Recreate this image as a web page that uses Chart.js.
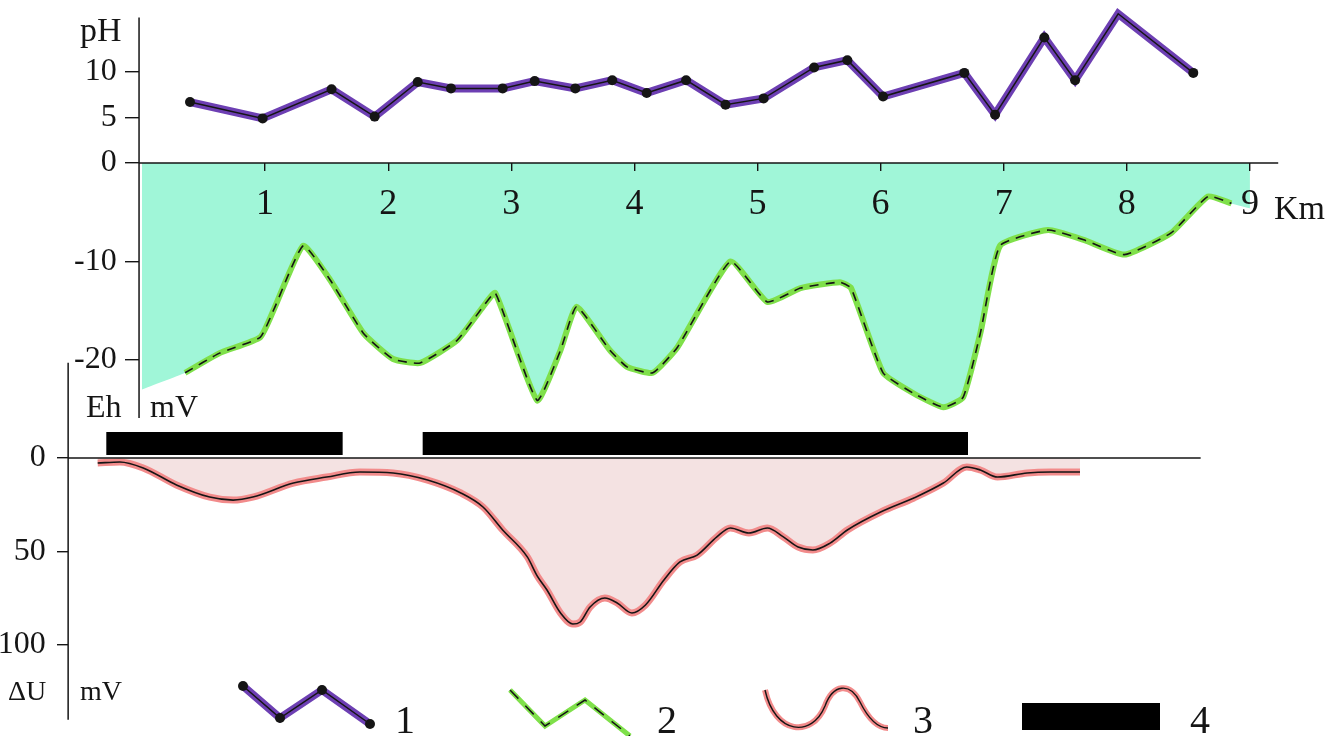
<!DOCTYPE html>
<html>
<head>
<meta charset="utf-8">
<script src="https://cdn.jsdelivr.net/npm/chart.js@4.4.1/dist/chart.umd.min.js"></script>
<style>
  html, body { margin: 0; padding: 0; background: #fff; }
  #wrap { width: 1337px; height: 736px; }
</style>
</head>
<body>
<div id="wrap"><canvas id="profileChart" width="1337" height="736"></canvas></div>
<script>
// pH along the profile
const phKm  = [0.39, 0.98, 1.54, 1.89, 2.24, 2.51, 2.93, 3.19, 3.52, 3.82, 4.10, 4.42, 4.74, 5.05, 5.46, 5.73, 6.02, 6.68, 6.93, 7.33, 7.58, 7.93, 8.54];
const phVal = [6.7, 4.9, 8.1, 5.1, 8.9, 8.2, 8.2, 9.0, 8.2, 9.1, 7.7, 9.1, 6.4, 7.1, 10.5, 11.3, 7.3, 9.9, 5.3, 13.8, 9.1, 16.4, 9.9];

// Eh, mV
const ehKm  = [0.35, 0.63, 0.96, 1.07, 1.31, 1.53, 1.80, 2.04, 2.26, 2.56, 2.77, 2.87, 3.21, 3.40, 3.53, 3.80, 3.94, 4.15, 4.35, 4.78, 5.08, 5.35, 5.67, 5.76, 6.02, 6.27, 6.51, 6.67, 6.81, 6.97, 7.36, 7.65, 7.98, 8.36, 8.66, 8.85];
const ehVal = [-21.3, -19.3, -17.7, -14.9, -8.4, -11.9, -17.3, -19.9, -20.3, -18.0, -14.6, -13.2, -24.1, -19.0, -14.6, -19.0, -20.7, -21.3, -18.7, -10.0, -14.1, -12.7, -12.1, -12.7, -21.3, -23.4, -24.8, -23.8, -17.3, -8.4, -6.8, -7.8, -9.3, -7.1, -3.4, -4.1];
// shaded Eh area runs on to the profile ends
const ehEdgeKm  = [0, 9];
const ehEdgeVal = [-23.0, -4.6];

// ΔU, mV
const duKm  = [-0.36, -0.18, 0.01, 0.28, 0.55, 0.74, 0.90, 1.23, 1.50, 1.77, 2.04, 2.32, 2.59, 2.77, 2.93, 3.13, 3.21, 3.29, 3.40, 3.50, 3.56, 3.64, 3.76, 3.86, 3.98, 4.09, 4.24, 4.37, 4.51, 4.67, 4.78, 4.93, 5.08, 5.21, 5.33, 5.45, 5.59, 5.73, 6.00, 6.27, 6.51, 6.70, 6.81, 6.95, 7.19, 7.38, 7.62];
const duVal = [2.7, 2.1, 5.3, 14.4, 20.9, 22.5, 20.9, 13.4, 10.2, 7.5, 8.0, 11.8, 18.7, 26.2, 38.5, 52.9, 63.0, 70.6, 82.9, 88.8, 87.7, 79.7, 74.9, 77.5, 82.9, 78.6, 65.2, 55.6, 51.9, 42.2, 37.4, 40.1, 37.4, 42.2, 47.6, 49.2, 45.5, 38.5, 28.9, 21.4, 13.4, 4.8, 6.4, 10.2, 8.0, 7.5, 7.5];

// zones (legend 4), km
const zoneStart = [-0.29, 2.28];
const zoneEnd   = [1.63, 6.71];

// tick labels
const kmTicks = [1, 2, 3, 4, 5, 6, 7, 8, 9];
const phTicks = [0, 5, 10];
const ehTicks = [-10, -20];
const duTicks = [0, 50, 100];
const legendLabels = ['1', '2', '3', '4'];

// colours
const PURPLE = '#6d3fb3';
const GREEN = '#7fe04a';
const MINT = '#a0f6d8';
const PINK = '#f28b8b';
const PINK_FILL = '#f4e2e2';
const INK = '#151515';
const SERIF = "'Liberation Serif', 'Times New Roman', serif";

// layout: canvas 1337x736, padding top/bottom
const W = 1337, H = 736, PAD = 40;
const KM0_PX = 142, KM_PX = 123.1;          // km 0 pixel and px per km
const xMin = (0 - KM0_PX) / KM_PX;
const xMax = (W - KM0_PX) / KM_PX;
const yRange = (zeroPx, pxPerUnit) => ({
    max: (zeroPx - PAD) / pxPerUnit,
    min: -(H - PAD - zeroPx) / pxPerUnit
});
const phR = yRange(163, 9.1);
const ehR = yRange(163, 9.85);
const duR = { min: -(458 - PAD) / 1.87, max: (H - PAD - 458) / 1.87 };   // reversed
const AXIS_KM = -0.024;      // pH / Eh axis
const DU_AXIS_KM = -0.6;     // ΔU axis
const ZONE_LEVEL = -7.8;     // on ΔU scale, just above the zero line

const pts = (xs, ys) => xs.map((x, i) => ({ x: x, y: ys[i] }));

const zoneData = [];
zoneStart.forEach((s, i) => {
    zoneData.push({ x: s, y: ZONE_LEVEL }, { x: zoneEnd[i], y: ZONE_LEVEL }, { x: zoneEnd[i] + 0.01, y: null });
});

const tickFont = { family: SERIF, size: 32 };
const setTicks = (list) => (scale) => { scale.ticks = list.map(v => ({ value: v })); };
const yAxis = (range, list, posKm, tickLen, extra) => Object.assign({
    type: 'linear',
    axis: 'y',
    position: { x: posKm },
    min: range.min,
    max: range.max,
    afterBuildTicks: setTicks(list),
    ticks: { font: tickFont, color: INK, padding: 6, z: 1, callback: v => v + '\u2002\u2009' },
    grid: { drawOnChartArea: false, drawTicks: true, tickLength: tickLen, color: INK, lineWidth: 1.4, z: 1 },
    border: { display: false }
}, extra || {});

function stroke(ctx, path, color, width, dash) {
    ctx.beginPath();
    path.forEach((p, i) => i ? ctx.lineTo(p[0], p[1]) : ctx.moveTo(p[0], p[1]));
    ctx.strokeStyle = color;
    ctx.lineWidth = width;
    ctx.setLineDash(dash || []);
    ctx.stroke();
    ctx.setLineDash([]);
}

const framePlugin = {
    id: 'frame',
    afterDraw(chart) {
        const { ctx } = chart;
        const { x, ph, eh, du } = chart.scales;
        ctx.save();
        ctx.lineCap = 'butt';
        // axis lines
        const ax = x.getPixelForValue(AXIS_KM);
        stroke(ctx, [[ax, ph.getPixelForValue(16)], [ax, eh.getPixelForValue(-25.9)]], INK, 1.5);
        stroke(ctx, [[ax, eh.getPixelForValue(0)], [x.getPixelForValue(9.23), eh.getPixelForValue(0)]], INK, 1.5);
        const dx = x.getPixelForValue(DU_AXIS_KM);
        stroke(ctx, [[dx, du.getPixelForValue(-51)], [dx, du.getPixelForValue(140)]], INK, 1.5);
        stroke(ctx, [[dx, du.getPixelForValue(0)], [x.getPixelForValue(8.6), du.getPixelForValue(0)]], INK, 1.3);

        // axis names
        ctx.fillStyle = INK;
        ctx.textBaseline = 'alphabetic';
        ctx.textAlign = 'left';
        ctx.font = '34px ' + SERIF;
        ctx.fillText('pH', 80, 41);
        ctx.font = '32px ' + SERIF;
        ctx.fillText('Eh', 86, 417);
        ctx.fillText('mV', 150, 417);
        ctx.font = '34px ' + SERIF;
        ctx.fillText('Km', 1274, 219);
        ctx.font = '28px ' + SERIF;
        ctx.fillText('\u0394U', 8, 700);
        ctx.fillText('mV', 80, 700);

        // legend
        const p1 = [[243, 686], [280, 718], [322, 690], [370, 724]];
        stroke(ctx, p1, PURPLE, 8);
        stroke(ctx, p1, INK, 1.5);
        ctx.fillStyle = INK;
        p1.forEach(p => { ctx.beginPath(); ctx.arc(p[0], p[1], 5, 0, Math.PI * 2); ctx.fill(); });

        const p2 = [[510, 690], [545, 726], [585, 700], [630, 736]];
        stroke(ctx, p2, GREEN, 5);
        stroke(ctx, p2, INK, 1.5, [12, 10]);

        const wave = () => {
            ctx.beginPath();
            ctx.moveTo(765, 690);
            ctx.bezierCurveTo(775, 735, 812, 738, 825, 706);
            ctx.bezierCurveTo(833, 684, 850, 682, 860, 702);
            ctx.bezierCurveTo(870, 722, 880, 728, 888, 728);
        };
        wave(); ctx.strokeStyle = PINK; ctx.lineWidth = 6; ctx.stroke();
        wave(); ctx.strokeStyle = INK; ctx.lineWidth = 1.4; ctx.stroke();

        ctx.fillStyle = '#000';
        ctx.fillRect(1022, 703, 138, 27);

        ctx.fillStyle = INK;
        ctx.font = '40px ' + SERIF;
        [395, 657, 913, 1190].forEach((lx, i) => ctx.fillText(legendLabels[i], lx, 733));
        ctx.restore();
    }
};

const ctx = document.getElementById('profileChart').getContext('2d');
const profileChart = new Chart(ctx, {
    type: 'line',
    data: {
        datasets: [
            {
                label: 'Eh area',
                data: pts([ehEdgeKm[0]].concat(ehKm, [ehEdgeKm[1]]), [ehEdgeVal[0]].concat(ehVal, [ehEdgeVal[1]])),
                yAxisID: 'eh',
                fill: 'origin',
                backgroundColor: MINT,
                borderWidth: 0,
                pointRadius: 0,
                tension: 0.15,
                order: 10
            },
            {
                label: 'ΔU',
                data: pts(duKm, duVal),
                yAxisID: 'du',
                fill: 'origin',
                backgroundColor: PINK_FILL,
                borderColor: PINK,
                borderWidth: 7,
                pointRadius: 0,
                cubicInterpolationMode: 'monotone',
                order: 9
            },
            {
                label: 'Eh',
                data: pts(ehKm, ehVal),
                yAxisID: 'eh',
                borderColor: GREEN,
                borderWidth: 6,
                pointRadius: 0,
                tension: 0.15,
                order: 8
            },
            {
                label: 'pH',
                data: pts(phKm, phVal),
                yAxisID: 'ph',
                borderColor: PURPLE,
                borderWidth: 8,
                pointRadius: 0,
                order: 8
            },
            {
                label: 'zones',
                data: zoneData,
                yAxisID: 'du',
                borderColor: '#000',
                borderWidth: 23,
                borderCapStyle: 'butt',
                spanGaps: false,
                pointRadius: 0,
                order: 5
            },
            {
                label: 'ΔU line',
                data: pts(duKm, duVal),
                yAxisID: 'du',
                borderColor: INK,
                borderWidth: 1.6,
                pointRadius: 0,
                cubicInterpolationMode: 'monotone',
                order: 2
            },
            {
                label: 'Eh line',
                data: pts(ehKm, ehVal),
                yAxisID: 'eh',
                borderColor: INK,
                borderWidth: 1.6,
                borderDash: [9, 7],
                pointRadius: 0,
                tension: 0.15,
                order: 2
            },
            {
                label: 'pH line',
                data: pts(phKm, phVal),
                yAxisID: 'ph',
                borderColor: INK,
                borderWidth: 1.5,
                pointRadius: 5,
                pointBackgroundColor: INK,
                pointBorderWidth: 0,
                order: 1
            }
        ]
    },
    options: {
        responsive: false,
        animation: false,
        events: [],
        clip: false,
        datasets: { line: { clip: false, fill: false } },
        layout: { autoPadding: false, padding: { top: PAD, bottom: PAD, left: 0, right: 0 } },
        plugins: {
            legend: { display: false },
            tooltip: { enabled: false }
        },
        scales: {
            x: {
                type: 'linear',
                position: { eh: 0 },
                min: xMin,
                max: xMax,
                afterBuildTicks: setTicks(kmTicks),
                ticks: { font: { family: SERIF, size: 36 }, color: INK, padding: 12, z: 1 },
                grid: { drawOnChartArea: false, drawTicks: true, tickLength: 8, color: INK, lineWidth: 1.4, z: 1 },
                border: { display: false }
            },
            ph: yAxis(phR, phTicks, AXIS_KM, 14),
            eh: yAxis(ehR, ehTicks, AXIS_KM, 14),
            du: yAxis(duR, duTicks, DU_AXIS_KM, 11, { reverse: true })
        }
    },
    plugins: [framePlugin]
});
</script>
</body>
</html>
